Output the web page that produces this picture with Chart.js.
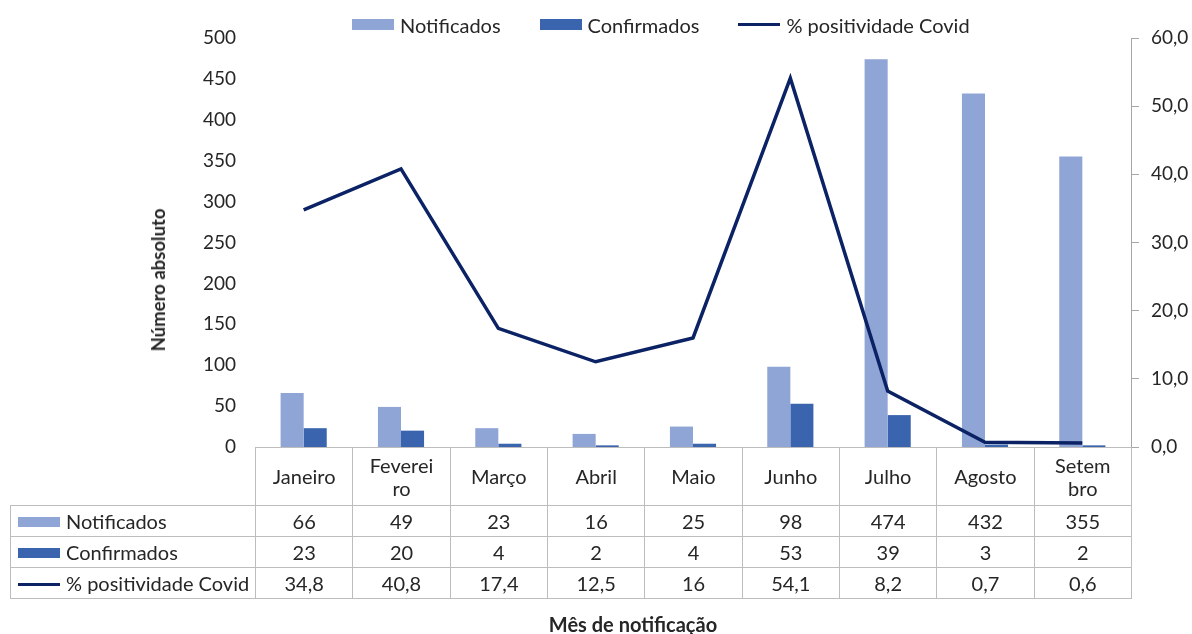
<!DOCTYPE html>
<html lang="pt">
<head>
<meta charset="UTF-8">
<title>Notificados e confirmados por mês</title>
<script src="https://cdn.jsdelivr.net/npm/chart.js"></script>
<style>
  body { margin: 0; background: #fff; font-family: Lato, "Noto Sans", sans-serif; color: #262626; }
  #wrap { position: relative; width: 1192px; height: 634px; overflow: hidden; }
  canvas { position: absolute; left: 0; top: 0; }
  .legend { position: absolute; top: 12px; left: 352px; height: 25px; display: flex; align-items: center; font-size: 20px; white-space: nowrap; }
  .legend span.item { display: flex; align-items: center; margin-right: 39px; }
  .key { display: inline-block; width: 42px; height: 11px; margin-right: 6px; }
  .key.line { height: 3px; background: #0B2265; }
  .ytitle { position: absolute; left: 158px; top: 280px; transform: translate(-50%, -50%) rotate(-90deg); font-weight: bold; font-size: 18.5px; white-space: nowrap; }
  .xtitle { position: absolute; left: 633px; top: 624px; transform: translate(-50%, -50%); font-weight: bold; font-size: 20px; white-space: nowrap; }
  table { position: absolute; border-collapse: collapse; table-layout: fixed; font-size: 20px; }
  td { border: 1px solid #bdbdbd; text-align: center; padding: 0; line-height: 23px; }
  td.lab { text-align: left; padding-left: 7px; white-space: nowrap; }
  td.blank { border: none; }
  td .key { vertical-align: middle; margin-right: 6px; height: 10px; position: relative; top: -1px; }
  td .key.line { height: 3px; }
</style>
</head>
<body>
<div id="wrap">
  <canvas id="chart" width="1192" height="634"></canvas>
  <div class="legend">
    <span class="item"><span class="key" style="background:#8FA5D6"></span>Notificados</span>
    <span class="item"><span class="key" style="background:#3A64AE"></span>Confirmados</span>
    <span class="item"><span class="key line"></span>% positividade Covid</span>
  </div>
  <div class="ytitle">Número absoluto</div>
  <div class="xtitle">Mês de notificação</div>
  <table id="dataTable"></table>
</div>
<script>
  const months = ['Janeiro', 'Fevereiro', 'Março', 'Abril', 'Maio', 'Junho', 'Julho', 'Agosto', 'Setembro'];
  const monthHeaders = ['Janeiro', 'Feverei<br>ro', 'Março', 'Abril', 'Maio', 'Junho', 'Julho', 'Agosto', 'Setem<br>bro'];
  const notificados = [66, 49, 23, 16, 25, 98, 474, 432, 355];
  const confirmados = [23, 20, 4, 2, 4, 53, 39, 3, 2];
  const positividade = [34.8, 40.8, 17.4, 12.5, 16, 54.1, 8.2, 0.7, 0.6];

  const colNotif = '#8FA5D6';
  const colConf = '#3A64AE';
  const colLine = '#0B2265';
  const tickFont = { family: 'Lato', size: 19 };

  const chart = new Chart(document.getElementById('chart'), {
    data: {
      labels: months,
      datasets: [
        { type: 'bar', label: 'Notificados', data: notificados, backgroundColor: colNotif, yAxisID: 'y', order: 1 },
        { type: 'bar', label: 'Confirmados', data: confirmados, backgroundColor: colConf, yAxisID: 'y', order: 1 },
        { type: 'line', label: '% positividade Covid', data: positividade, borderColor: colLine, borderWidth: 3.5,
          pointRadius: 0, tension: 0, yAxisID: 'y1', order: -1 }
      ]
    },
    options: {
      responsive: false,
      animation: false,
      devicePixelRatio: 1,
      layout: { padding: { top: 38, bottom: 187, left: 0, right: 0 } },
      datasets: { bar: { categoryPercentage: 0.474, barPercentage: 1 } },
      plugins: { legend: { display: false }, tooltip: { enabled: false } },
      scales: {
        x: { display: false, offset: true },
        y: {
          position: 'left', min: 0, max: 500,
          ticks: { stepSize: 50, font: tickFont, color: '#262626', padding: 19 },
          grid: { display: false, drawTicks: false },
          border: { display: false },
          afterFit: s => { s.width = 255; }
        },
        y1: {
          position: 'right', min: 0, max: 60,
          ticks: { stepSize: 10, font: tickFont, color: '#262626', padding: 12,
                   callback: v => v.toFixed(1).replace('.', ',') },
          grid: { drawOnChartArea: false, drawTicks: true, tickLength: 8, color: '#a6a6a6' },
          border: { display: true, color: '#a6a6a6' },
          afterFit: s => { s.width = 61; }
        }
      }
    }
  });

  // data table under the plot, columns follow the category scale
  function buildTable() {
    const area = chart.chartArea;
    const colW = (area.right - area.left) / months.length;
    const tbl = document.getElementById('dataTable');
    const leftX = 10;
    tbl.style.left = leftX + 'px';
    tbl.style.top = area.bottom + 'px';
    let html = '<colgroup><col style="width:' + (area.left - leftX) + 'px">';
    months.forEach(() => { html += '<col style="width:' + colW + 'px">'; });
    html += '</colgroup>';
    html += '<tr style="height:58px"><td class="blank"></td>' + monthHeaders.map(m => '<td>' + m + '</td>').join('') + '</tr>';
    const rows = [
      ['<span class="key" style="background:' + colNotif + '"></span>Notificados', notificados],
      ['<span class="key" style="background:' + colConf + '"></span>Confirmados', confirmados],
      ['<span class="key line"></span>% positividade Covid', positividade.map(v => String(v).replace('.', ','))]
    ];
    rows.forEach(r => {
      html += '<tr style="height:31px"><td class="lab">' + r[0] + '</td>' + r[1].map(v => '<td>' + v + '</td>').join('') + '</tr>';
    });
    tbl.innerHTML = html;
  }
  buildTable();
</script>
</body>
</html>
